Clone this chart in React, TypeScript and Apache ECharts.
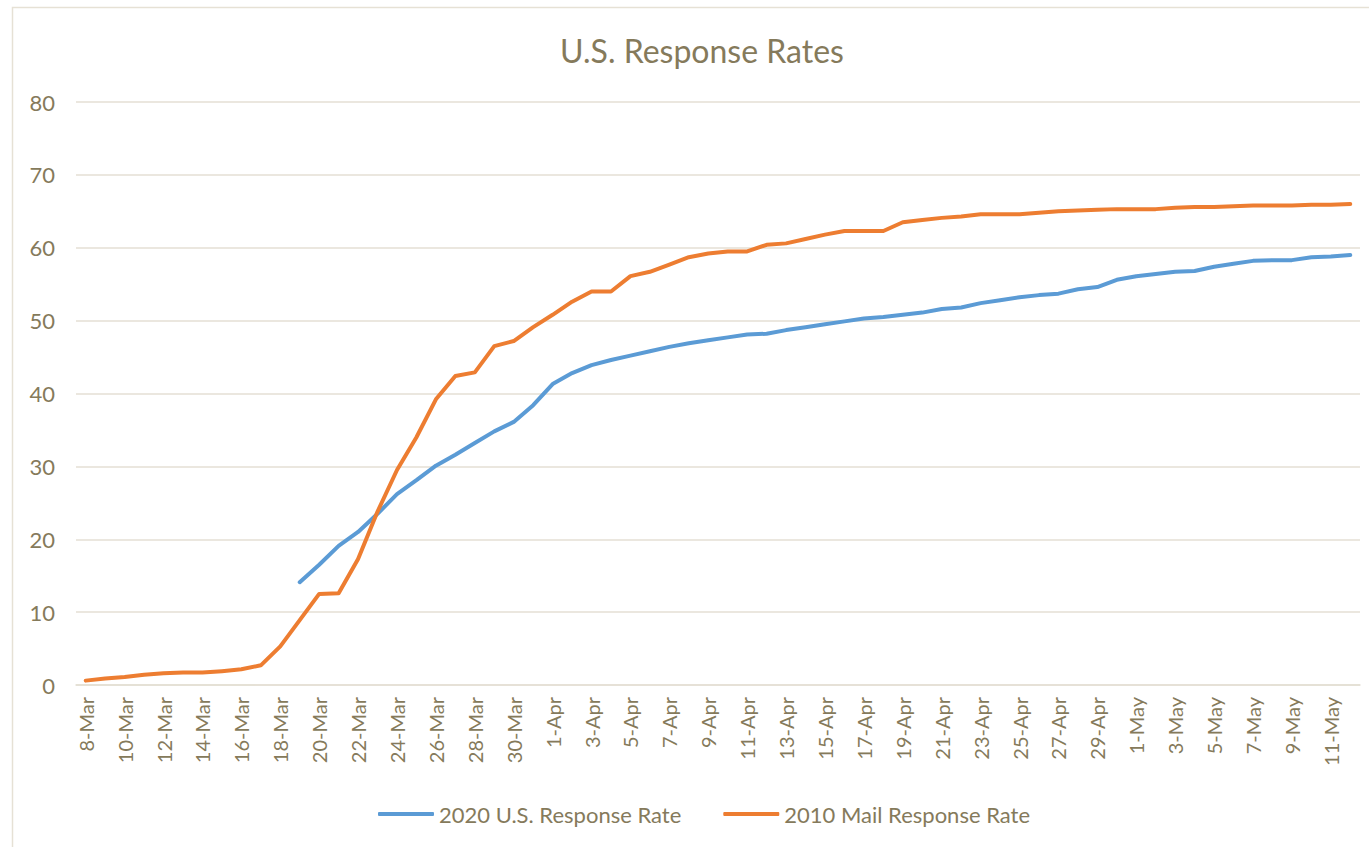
import React, { useEffect, useRef } from "react";
import * as echarts from "echarts";

const categories: string[] = [
  "8-Mar", "9-Mar", "10-Mar", "11-Mar", "12-Mar", "13-Mar", "14-Mar", "15-Mar", "16-Mar", "17-Mar",
  "18-Mar", "19-Mar", "20-Mar", "21-Mar", "22-Mar", "23-Mar", "24-Mar", "25-Mar", "26-Mar", "27-Mar",
  "28-Mar", "29-Mar", "30-Mar", "31-Mar", "1-Apr", "2-Apr", "3-Apr", "4-Apr", "5-Apr", "6-Apr",
  "7-Apr", "8-Apr", "9-Apr", "10-Apr", "11-Apr", "12-Apr", "13-Apr", "14-Apr", "15-Apr", "16-Apr",
  "17-Apr", "18-Apr", "19-Apr", "20-Apr", "21-Apr", "22-Apr", "23-Apr", "24-Apr", "25-Apr", "26-Apr",
  "27-Apr", "28-Apr", "29-Apr", "30-Apr", "1-May", "2-May", "3-May", "4-May", "5-May", "6-May",
  "7-May", "8-May", "9-May", "10-May", "11-May", "12-May",
];

const rate2020: (number | null)[] = [
  null, null, null, null, null, null, null, null, null, null,
  null, 14.1, 16.5, 19.1, 21.0, 23.5, 26.2, 28.1, 30.1, 31.6,
  33.2, 34.8, 36.1, 38.4, 41.3, 42.8, 43.9, 44.6, 45.2, 45.8,
  46.4, 46.9, 47.3, 47.7, 48.1, 48.2, 48.7, 49.1, 49.5, 49.9,
  50.3, 50.5, 50.8, 51.1, 51.6, 51.8, 52.4, 52.8, 53.2, 53.5,
  53.7, 54.3, 54.6, 55.6, 56.1, 56.4, 56.7, 56.8, 57.4, 57.8,
  58.2, 58.3, 58.3, 58.7, 58.8, 59.0,
];

const rate2010: number[] = [
  0.6, 0.9, 1.1, 1.4, 1.6, 1.7, 1.7, 1.9, 2.15, 2.7,
  5.3, 8.9, 12.5, 12.6, 17.3, 23.8, 29.5, 34.0, 39.2, 42.4,
  42.9, 46.5, 47.2, 49.1, 50.8, 52.6, 54.0, 54.0, 56.1, 56.7,
  57.7, 58.7, 59.2, 59.5, 59.5, 60.4, 60.6, 61.2, 61.8, 62.3,
  62.3, 62.3, 63.5, 63.8, 64.1, 64.3, 64.6, 64.6, 64.6, 64.8,
  65.0, 65.1, 65.2, 65.3, 65.3, 65.3, 65.5, 65.6, 65.6, 65.7,
  65.8, 65.8, 65.8, 65.9, 65.9, 66.0,
];

const seriesNames: string[] = ["2020 U.S. Response Rate", "2010 Mail Response Rate"];
const titleText = "U.S. Response Rates";

const TEXT = "#857a5b";
const GRID = "#e4dfd4";
const FONT = "Lato, 'Noto Sans', sans-serif";

export default function App() {
  const ref = useRef<HTMLDivElement>(null);
  useEffect(() => {
    if (!ref.current) return;
    const chart = echarts.init(ref.current, undefined, { renderer: "svg" });
    chart.setOption({
      animation: false,
      backgroundColor: "#ffffff",
      textStyle: { fontFamily: FONT },
      title: {
        text: titleText,
        left: 697,
        textAlign: "center",
        top: 29,
        textStyle: { color: TEXT, fontSize: 32, fontWeight: "normal", fontFamily: FONT },
      },
      graphic: [
        {
          type: "rect",
          shape: { x: 12.5, y: 7.5, width: 1400, height: 900 },
          style: { fill: "none", stroke: "#e6e1d5", lineWidth: 1.5 },
          silent: true,
          z: -1,
        },
      ],
      legend: {
        bottom: 17,
        left: 373,
        itemGap: 42,
        itemWidth: 56,
        itemHeight: 4,
        icon: "roundRect",
        textStyle: { color: TEXT, fontSize: 22, fontFamily: FONT },
        data: seriesNames,
      },
      grid: { left: 76, right: 9, top: 102, bottom: 162, containLabel: false },
      xAxis: {
        type: "category",
        data: categories,
        boundaryGap: true,
        axisLine: { lineStyle: { color: GRID, width: 1.5 } },
        axisTick: { interval: 1, alignWithLabel: false, length: 7, lineStyle: { color: GRID, width: 1.5 } },
        axisLabel: {
          interval: 1,
          rotate: 90,
          color: TEXT,
          fontSize: 20,
          margin: 12,
          fontFamily: FONT,
        },
      },
      yAxis: {
        type: "value",
        min: 0,
        max: 80,
        interval: 10,
        axisLine: { show: false },
        axisTick: { show: false },
        axisLabel: { color: TEXT, fontSize: 22, margin: 21, fontFamily: FONT },
        splitLine: { lineStyle: { color: GRID, width: 1.5 } },
      },
      series: [
        {
          name: seriesNames[0],
          type: "line",
          data: rate2020,
          showSymbol: false,
          symbol: "none",
          connectNulls: false,
          lineStyle: { color: "#5b9bd5", width: 4, cap: "round", join: "round" },
          itemStyle: { color: "#5b9bd5" },
        },
        {
          name: seriesNames[1],
          type: "line",
          data: rate2010,
          showSymbol: false,
          symbol: "none",
          lineStyle: { color: "#ed7d31", width: 4, cap: "round", join: "round" },
          itemStyle: { color: "#ed7d31" },
        },
      ],
    });
    return () => chart.dispose();
  }, []);
  return (
    <div
      ref={ref}
      style={{ position: "fixed", left: 0, top: 0, width: 1369, height: 847 }}
    />
  );
}
